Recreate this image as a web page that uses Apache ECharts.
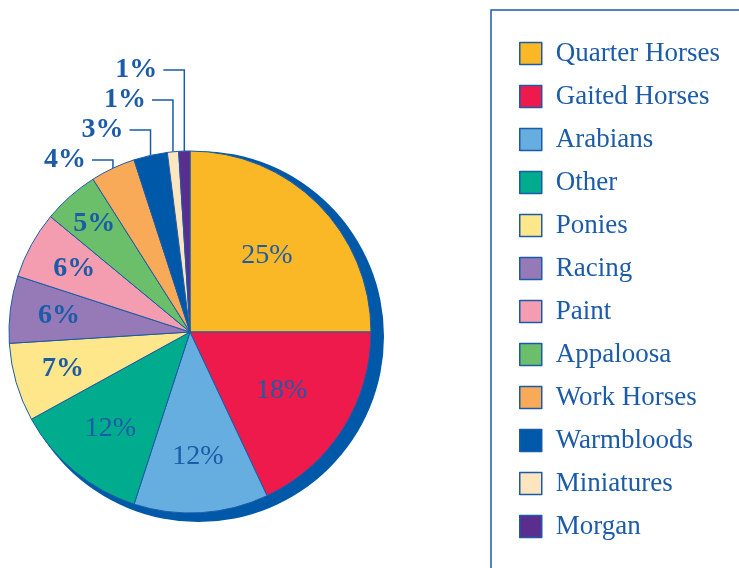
<!DOCTYPE html>
<html>
<head>
<meta charset="utf-8">
<script src="https://cdn.jsdelivr.net/npm/echarts@6/dist/echarts.min.js"></script>
<style>
  html, body { margin: 0; padding: 0; background: #ffffff; }
  #main { width: 739px; height: 568px; }
</style>
</head>
<body>
<div id="main"></div>
<script>
// 数据
var breeds = ['Quarter Horses', 'Gaited Horses', 'Arabians', 'Other', 'Ponies', 'Racing',
  'Paint', 'Appaloosa', 'Work Horses', 'Warmbloods', 'Miniatures', 'Morgan'];
var shares = [25, 18, 12, 12, 7, 6, 6, 5, 4, 3, 1, 1];
var colors = ['#fbb826', '#ee1a4c', '#66aee0', '#00ab8e', '#fee68a', '#9679b7',
  '#f49cb0', '#6bbf6a', '#f9aa58', '#0058a8', '#fde5c0', '#5b2e8e'];

var blue = '#1b5ba8';
var cx = 190, cy = 332, R = 181;

var total = shares.reduce(function (a, b) { return a + b; }, 0);
// 每块中间的角度（从12点顺时针）
var midAngles = [];
var acc = 0;
shares.forEach(function (v) {
  midAngles.push((acc + v / 2) / total * Math.PI * 2);
  acc += v;
});

var chart = echarts.init(document.getElementById('main'));

var data = breeds.map(function (name, i) {
  var outside = shares[i] <= 4;
  return {
    name: name,
    value: shares[i],
    itemStyle: { color: colors[i] },
    label: {
      position: outside ? 'outside' : 'inside',
      fontWeight: shares[i] <= 7 ? 'bold' : 'normal'
    },
    labelLine: { show: outside }
  };
});

// 外部标签的顺序（从下往上）
var outsideOrder = {};
var k = 0;
shares.forEach(function (v, i) { if (v <= 4) { outsideOrder[i] = k++; } });

chart.setOption({
  animation: false,
  graphic: [{
    type: 'circle',
    z: -10,
    silent: true,
    shape: { cx: cx + 8.5, cy: cy + 4.5, r: R + 4.5 },
    style: { fill: '#0058a8' }
  }, {
    type: 'rect',
    silent: true,
    shape: { x: 491, y: 10, width: 300, height: 600 },
    style: { fill: 'none', stroke: blue, lineWidth: 1.5 }
  }],
  legend: {
    orient: 'vertical',
    left: 519,
    top: 40,
    padding: 0,
    itemWidth: 22,
    itemHeight: 22,
    itemGap: 16,
    icon: 'rect',
    itemStyle: { borderColor: blue, borderWidth: 1.5 },
    textStyle: {
      fontFamily: 'Liberation Serif',
      fontSize: 27,
      lineHeight: 27,
      color: blue,
      padding: [0, 0, 0, 9]
    },
    data: breeds
  },
  series: [{
    type: 'pie',
    center: [cx, cy],
    radius: [0, R],
    startAngle: 90,
    clockwise: true,
    silent: true,
    avoidLabelOverlap: false,
    itemStyle: { borderColor: blue, borderWidth: 1 },
    label: {
      formatter: '{c}%',
      fontFamily: 'Liberation Serif',
      fontSize: 28,
      color: blue
    },
    labelLine: {
      lineStyle: { color: blue, width: 1.5 }
    },
    labelLayout: function (params) {
      var i = params.dataIndex;
      var a = midAngles[i];
      var v = shares[i];
      if (v <= 4) {
        var ex = cx + R * Math.sin(a);
        var ey = cy - R * Math.cos(a);
        var ly = 160 - 30 * outsideOrder[i];
        return {
          x: ex - 27,
          y: ly,
          align: 'right',
          verticalAlign: 'middle',
          hideOverlap: false,
          labelLinePoints: [[ex, ey], [ex, ly], [ex - 21, ly]]
        };
      }
      var r = v >= 18 ? 0.6 * R : (v >= 12 ? 0.69 * R : (v >= 6 ? 0.73 * R : 0.8 * R));
      return {
        x: cx + r * Math.sin(a),
        y: cy - r * Math.cos(a),
        align: 'center',
        verticalAlign: 'middle'
      };
    },
    data: data
  }]
});
</script>
</body>
</html>
